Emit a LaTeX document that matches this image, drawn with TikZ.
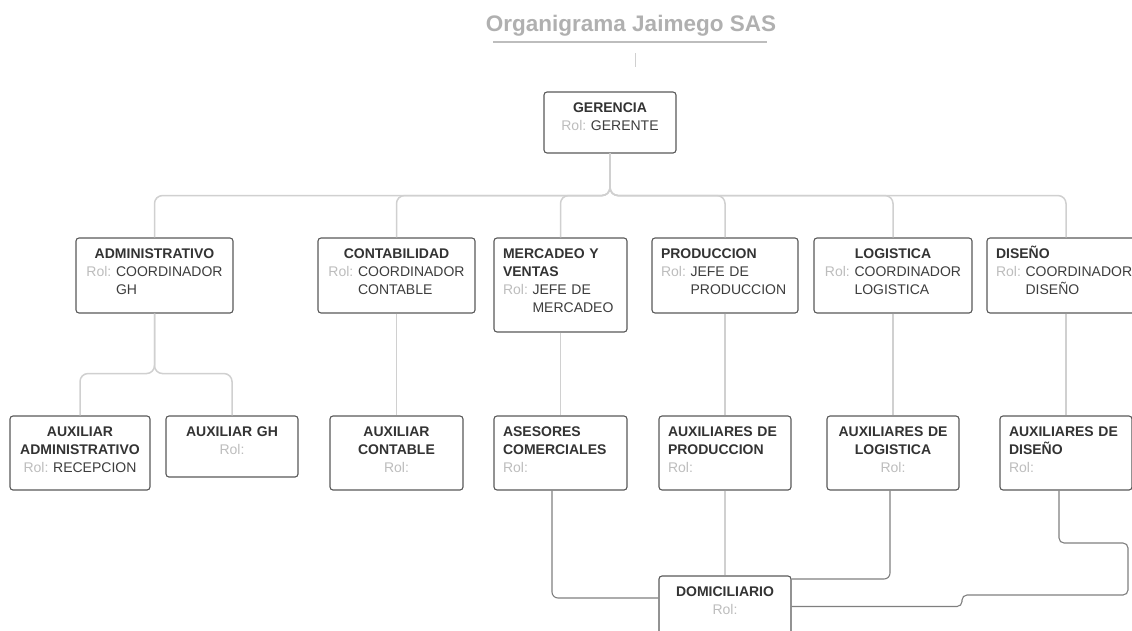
\documentclass[tikz,border=0pt]{standalone}
\usepackage{fontspec}
\setmainfont{Liberation Sans}
\definecolor{boxc}{HTML}{595959}
\definecolor{hdc}{HTML}{333333}
\definecolor{valc}{HTML}{3D3D3D}
\definecolor{rolc}{HTML}{BDBDBD}
\definecolor{treec}{HTML}{D0D0D0}
\definecolor{botc}{HTML}{7F7F7F}
\definecolor{titc}{HTML}{B0B0B0}
\definecolor{ulc}{HTML}{BDBDBD}
\newcommand\hd[1]{{\bfseries\color{hdc}#1}}
\newcommand\rl[1]{{\color{rolc}Rol:}~\begin{tabular}[t]{@{}l@{}}#1\end{tabular}}
\newcommand\rle{{\color{rolc}Rol:}}
\newcommand\fst{\rule{0pt}{13pt}}
\begin{document}
\begin{tikzpicture}[x=1pt,y=-1pt,
  orgbox/.style={draw=boxc, line width=1.1pt, rounded corners=3pt, fill=white, inner sep=0pt, minimum height=75pt},
  txt/.style={inner sep=0pt, anchor=north, text=valc, font=\fontsize{14pt}{18pt}\selectfont},
  tree/.style={draw=treec, line width=1.5pt, rounded corners=8pt},
  bot/.style={draw=botc, line width=1.1pt, rounded corners=6pt}]
\useasboundingbox (0,0) rectangle (1132,630);
\clip (0,0) rectangle (1132,630);

% title
\node[inner sep=0pt, anchor=base, text=titc, font=\fontsize{22.5pt}{26pt}\selectfont\bfseries] (title) at (631,31) {Organigrama Jaimego SAS};
\draw[draw=ulc, line width=1.5pt] (493,42) -- (767,42);
\draw[draw=treec, line width=1pt] (635,53) -- (635,67);

% boxes
\node[orgbox, minimum width=132pt, minimum height=61pt] (ger) at (610,122.5) {};
\node[orgbox, minimum width=157pt] (adm) at (154.5,275.5) {};
\node[orgbox, minimum width=157pt] (con) at (396.5,275.5) {};
\node[orgbox, minimum width=133pt, minimum height=94pt] (mer) at (560.5,285) {};
\node[orgbox, minimum width=146pt] (pro) at (725,275.5) {};
\node[orgbox, minimum width=158pt] (log) at (893,275.5) {};
\node[orgbox, minimum width=158pt] (dis) at (1066,275.5) {};

\node[orgbox, minimum width=140pt, minimum height=74pt] (aad) at (80,453) {};
\node[orgbox, minimum width=132pt, minimum height=61pt] (agh) at (232,446.5) {};
\node[orgbox, minimum width=133pt, minimum height=74pt] (aco) at (396.5,453) {};
\node[orgbox, minimum width=133pt, minimum height=74pt] (ase) at (560.5,453) {};
\node[orgbox, minimum width=132pt, minimum height=74pt] (apr) at (725,453) {};
\node[orgbox, minimum width=132pt, minimum height=74pt] (alo) at (893,453) {};
\node[orgbox, minimum width=132pt, minimum height=74pt] (adi) at (1066,453) {};
\node[orgbox, minimum width=132pt, minimum height=61pt] (dom) at (725,606.5) {};

% texts
\node[txt, text width=114pt, align=center] at ([yshift=-8pt]ger.north) {\fst\hd{GERENCIA}\\\rl{GERENTE}};
\node[txt, text width=139pt, align=center] at ([yshift=-8pt]adm.north) {\fst\hd{ADMINISTRATIVO}\\\rl{COORDINADOR\\GH}};
\node[txt, text width=139pt, align=center] at ([yshift=-8pt]con.north) {\fst\hd{CONTABILIDAD}\\\rl{COORDINADOR\\CONTABLE}};
\node[txt, text width=115pt, align=left] at ([yshift=-8pt]mer.north) {\fst\hd{MERCADEO Y}\\\hd{VENTAS}\\\rl{JEFE DE\\MERCADEO}};
\node[txt, text width=128pt, align=left] at ([yshift=-8pt]pro.north) {\fst\hd{PRODUCCION}\\\rl{JEFE DE\\PRODUCCION}};
\node[txt, text width=140pt, align=center] at ([yshift=-8pt]log.north) {\fst\hd{LOGISTICA}\\\rl{COORDINADOR\\LOGISTICA}};
\node[txt, text width=140pt, align=left] at ([yshift=-8pt]dis.north) {\fst\hd{DISEÑO}\\\rl{COORDINADOR\\DISEÑO}};

\node[txt, text width=122pt, align=center] at ([yshift=-8pt]aad.north) {\fst\hd{AUXILIAR}\\\hd{ADMINISTRATIVO}\\\rl{RECEPCION}};
\node[txt, text width=114pt, align=center] at ([yshift=-8pt]agh.north) {\fst\hd{AUXILIAR GH}\\\rle};
\node[txt, text width=115pt, align=center] at ([yshift=-8pt]aco.north) {\fst\hd{AUXILIAR}\\\hd{CONTABLE}\\\rle};
\node[txt, text width=115pt, align=left] at ([yshift=-8pt]ase.north) {\fst\hd{ASESORES}\\\hd{COMERCIALES}\\\rle};
\node[txt, text width=114pt, align=left] at ([yshift=-8pt]apr.north) {\fst\hd{AUXILIARES DE}\\\hd{PRODUCCION}\\\rle};
\node[txt, text width=114pt, align=center] at ([yshift=-8pt]alo.north) {\fst\hd{AUXILIARES DE}\\\hd{LOGISTICA}\\\rle};
\node[txt, text width=114pt, align=left] at ([yshift=-8pt]adi.north) {\fst\hd{AUXILIARES DE}\\\hd{DISEÑO}\\\rle};
\node[txt, text width=114pt, align=center] at ([yshift=-8pt]dom.north) {\fst\hd{DOMICILIARIO}\\\rle};

% tree connectors
\foreach \c in {adm,con,mer,pro,log,dis}
  \draw[tree] (ger.south) -- ++(0,42) -| (\c.north);
\foreach \c in {aad,agh}
  \draw[tree] (adm.south) -- ++(0,60) -| (\c.north);
\draw[tree] (con.south) -- (aco.north);
\draw[tree] (mer.south) -- (ase.north);
\draw[tree] (pro.south) -- (apr.north);
\draw[tree] (log.south) -- (alo.north);
\draw[tree] (dis.south) -- (adi.north);

% bottom connectors
\draw[bot] ([xshift=-8.5pt]ase.south) |- ([yshift=8.5pt]dom.west);
\draw[draw=treec, line width=1.1pt] (apr.south) -- (dom.north);
\draw[bot] ([xshift=-3pt]alo.south) |- ([yshift=27.5pt]dom.east);
\draw[bot, rounded corners=5pt] ([xshift=-7pt]adi.south) -- (1059,543) -- (1128,543) -- (1128,595) -- (962,595) -- (962,606.5) -- (dom.east);
\end{tikzpicture}
\end{document}
